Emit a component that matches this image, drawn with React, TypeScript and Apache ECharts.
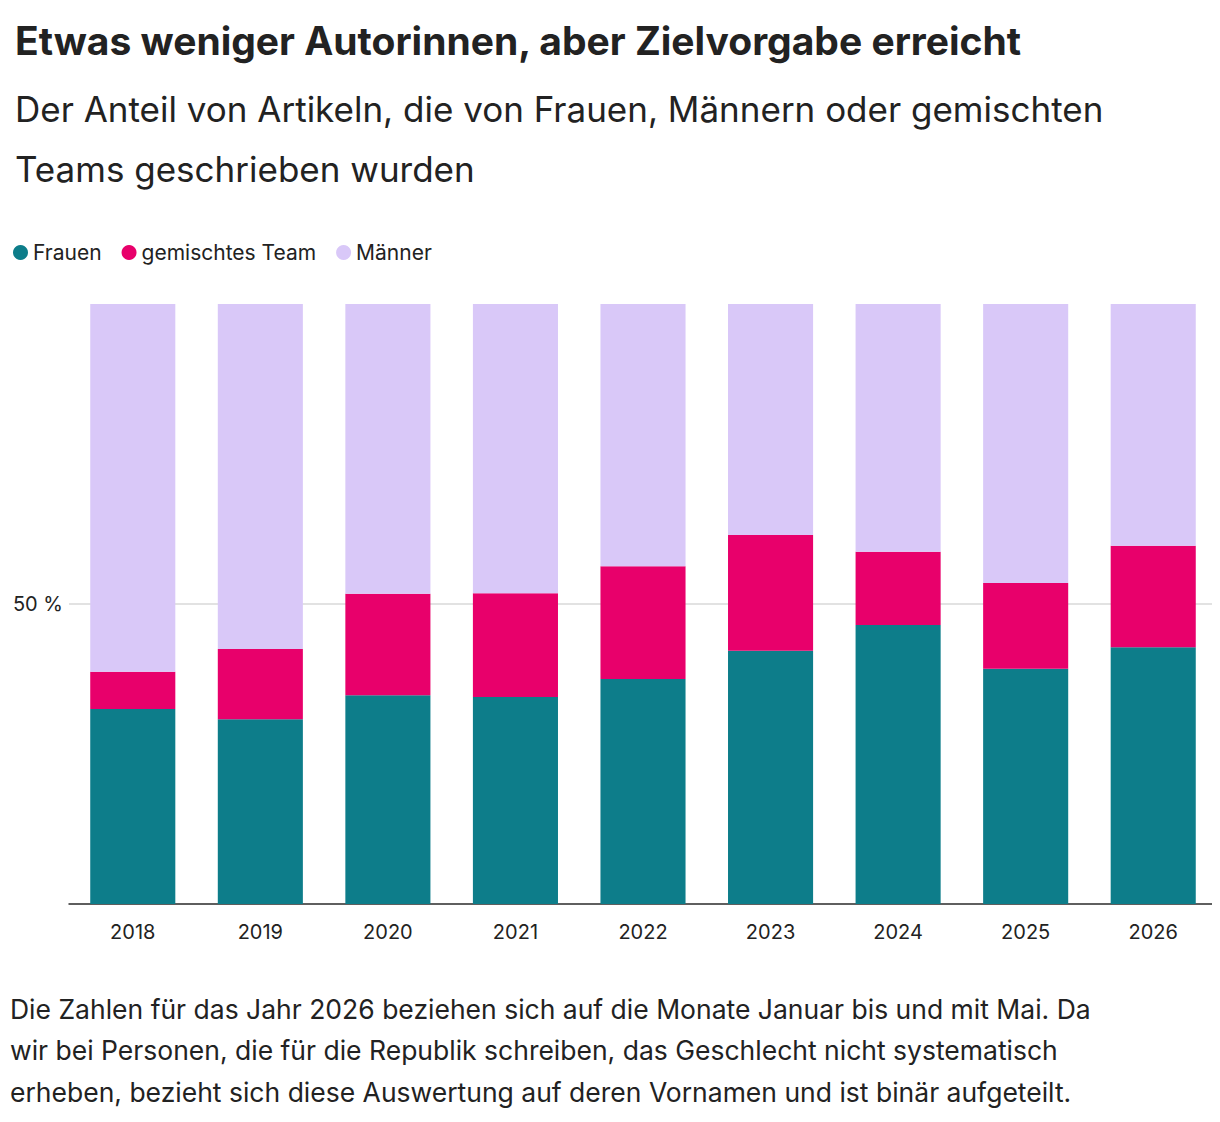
import React, { useEffect, useRef } from 'react';
import * as echarts from 'echarts';

const years = ['2018', '2019', '2020', '2021', '2022', '2023', '2024', '2025', '2026'];
const frauen = [32.5, 30.8, 34.8, 34.5, 37.5, 42.2, 46.5, 39.2, 42.8];
const gemischt = [6.2, 11.7, 16.9, 17.3, 18.8, 19.3, 12.2, 14.3, 16.9];
const maenner = [61.3, 57.5, 48.3, 48.2, 43.7, 38.5, 41.3, 46.5, 40.3];

const FONT = 'Inter, "Noto Sans", sans-serif';
const TEXT = '#222';

const App: React.FC = () => {
  const chartRef = useRef<HTMLDivElement>(null);

  useEffect(() => {
    if (!chartRef.current) return;
    const chart = echarts.init(chartRef.current, undefined, { renderer: 'svg' });

    const bar = (name: string, data: number[], color: string) => ({
      name,
      type: 'bar' as const,
      stack: 'total',
      data,
      barWidth: '66.7%',
      itemStyle: { color },
      emphasis: { disabled: true },
    });

    const option: echarts.EChartsOption = {
      animation: false,
      backgroundColor: '#fff',
      textStyle: { fontFamily: FONT },
      title: [
        {
          text: 'Etwas weniger Autorinnen, aber Zielvorgabe erreicht',
          left: 2, top: 8,
          textStyle: { fontSize: 39, fontWeight: 'bold', color: TEXT, fontFamily: FONT },
        },
        {
          text: 'Der Anteil von Artikeln, die von Frauen, Männern oder gemischten\nTeams geschrieben wurden',
          left: 2, top: 66,
          textStyle: { fontSize: 35, fontWeight: 'normal', color: TEXT, lineHeight: 60, fontFamily: FONT },
        },
      ],
      legend: {
        left: 0, top: 229,
        icon: 'circle', itemWidth: 15, itemHeight: 15, itemGap: 20,
        textStyle: { fontSize: 21, color: TEXT, fontFamily: FONT },
        data: ['Frauen', 'gemischtes Team', 'Männer'],
        selectedMode: false,
      },
      graphic: [
        {
          type: 'text', left: 2, top: 980,
          style: {
            text: 'Die Zahlen für das Jahr 2026 beziehen sich auf die Monate Januar bis und mit Mai. Da\nwir bei Personen, die für die Republik schreiben, das Geschlecht nicht systematisch\nerheben, bezieht sich diese Auswertung auf deren Vornamen und ist binär aufgeteilt.',
            fontSize: 26.5, lineHeight: 41.5, fill: TEXT, fontFamily: FONT,
          },
        },
      ],
      grid: { left: 61, right: 3, top: 296, bottom: 210 },
      xAxis: {
        type: 'category',
        data: years,
        axisTick: { show: false },
        axisLine: { lineStyle: { color: '#333', width: 1.5 } },
        axisLabel: { fontSize: 20, color: TEXT, margin: 18, fontFamily: FONT },
      },
      yAxis: {
        type: 'value',
        min: 0, max: 100, interval: 50,
        axisLabel: {
          fontSize: 20, color: TEXT, margin: 6, fontFamily: FONT,
          formatter: (v: number) => (v === 50 ? '50 %' : ''),
        },
        splitLine: {
          lineStyle: { color: ['#d8d8d8', '#d8d8d8', 'transparent'] as any, width: 1.5 },
        },
      },
      series: [
        bar('Frauen', frauen, '#0d7d8a'),
        bar('gemischtes Team', gemischt, '#e8006b'),
        bar('Männer', maenner, '#d9c8f8'),
      ],
    };

    chart.setOption(option);
    return () => chart.dispose();
  }, []);

  return <div ref={chartRef} style={{ width: 1212, height: 1106 }} />;
};

export default App;
